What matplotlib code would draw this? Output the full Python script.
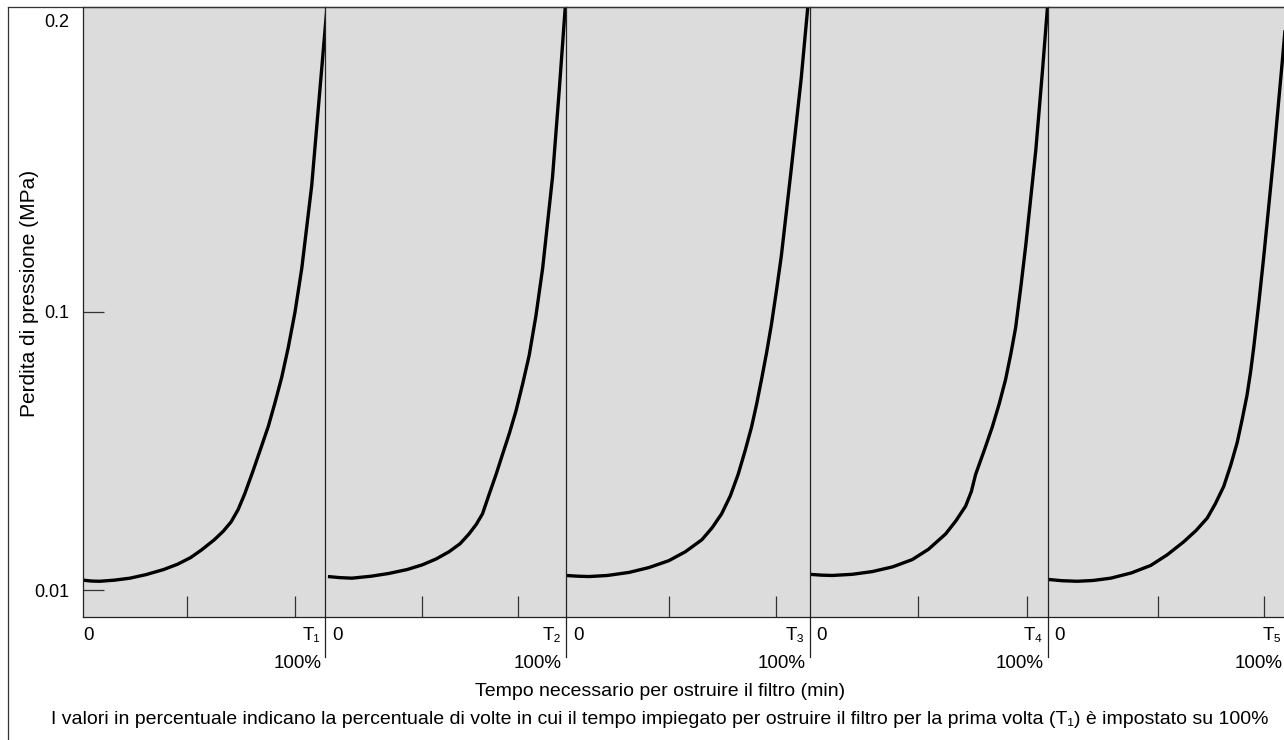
import numpy as np
import matplotlib
matplotlib.use("Agg")
import matplotlib.pyplot as plt
from matplotlib.lines import Line2D

plt.rcParams['font.family'] = ['Liberation Sans', 'DejaVu Sans']

# ---- data (x: fraction of the clogging time of each run, y: pressure loss in MPa) ----
x1 = [0.0, 0.035, 0.069, 0.13, 0.194, 0.26, 0.333, 0.39, 0.444, 0.49, 0.542, 0.578, 0.611, 0.64,
      0.667, 0.70, 0.736, 0.765, 0.792, 0.82, 0.847, 0.875, 0.903, 0.944, 0.972, 1.007]
y1 = [0.01089, 0.01081, 0.01079, 0.01089, 0.01107, 0.01140, 0.01189, 0.01242, 0.01312, 0.01400,
      0.01521, 0.01629, 0.01762, 0.01950, 0.02218, 0.02661, 0.03281, 0.03890, 0.04710, 0.05821,
      0.07447, 0.1000, 0.1150, 0.1434, 0.1706, 0.2045]

x2 = [0.011, 0.06, 0.111, 0.19, 0.264, 0.34, 0.403, 0.46, 0.514, 0.56, 0.597, 0.627, 0.653, 0.681,
      0.71, 0.736, 0.765, 0.792, 0.82, 0.847, 0.875, 0.903, 0.944, 0.972, 0.997]
y2 = [0.01122, 0.01112, 0.01107, 0.01125, 0.01151, 0.01189, 0.01236, 0.01297, 0.01377, 0.01472,
      0.01596, 0.01726, 0.01884, 0.02218, 0.02618, 0.03076, 0.03673, 0.04406, 0.05521, 0.06982,
      0.09683, 0.1150, 0.1462, 0.1761, 0.2045]

x3 = [0.0, 0.05, 0.095, 0.17, 0.259, 0.34, 0.422, 0.49, 0.558, 0.60, 0.639, 0.675, 0.707, 0.735,
      0.762, 0.783, 0.803, 0.824, 0.844, 0.864, 0.884, 0.925, 0.966, 0.993]
y3 = [0.01132, 0.01125, 0.01122, 0.01132, 0.01161, 0.01208, 0.01279, 0.01377, 0.01521, 0.01679,
      0.01884, 0.02188, 0.02612, 0.03162, 0.03864, 0.04677, 0.05728, 0.07161, 0.09057, 0.10716,
      0.1190, 0.1489, 0.1801, 0.2045]

x4 = [0.0, 0.05, 0.095, 0.18, 0.264, 0.35, 0.432, 0.50, 0.572, 0.615, 0.656, 0.68, 0.698, 0.735,
      0.768, 0.797, 0.824, 0.846, 0.866, 0.888, 0.909, 0.951, 0.979, 1.0]
y4 = [0.01143, 0.01135, 0.01132, 0.01143, 0.01169, 0.01216, 0.01291, 0.01406, 0.01596, 0.01778,
      0.02009, 0.02265, 0.02612, 0.03199, 0.03864, 0.04677, 0.05728, 0.07079, 0.08770, 0.1086,
      0.1231, 0.1556, 0.1828, 0.2045]

x5 = [0.0, 0.06, 0.125, 0.19, 0.264, 0.35, 0.431, 0.50, 0.569, 0.62, 0.667, 0.70, 0.736, 0.765,
      0.792, 0.813, 0.833, 0.848, 0.861, 0.882, 0.903, 0.944, 0.983, 1.0]
y5 = [0.01096, 0.01084, 0.01079, 0.01086, 0.01107, 0.01156, 0.01230, 0.01343, 0.01496, 0.01641,
      0.01820, 0.02042, 0.02366, 0.02818, 0.03396, 0.04121, 0.05023, 0.06095, 0.07447, 0.10286,
      0.1190, 0.1530, 0.1883, 0.2045]

xs = [x1, x2, x3, x4, x5]
ys = [y1, y2, y3, y4, y5]

# minor time ticks of each panel (fraction of its clogging time)
panel_ticks = [[0.431, 0.875], [0.403, 0.799], [0.424, 0.864], [0.457, 0.912], [0.4625, 0.903]]
end_labels = ["T\u2081", "T\u2082", "T\u2083", "T\u2084", "T\u2085"]
pct_label = "100%"
ytick_vals = [0.01, 0.1, 0.2]
ytick_labels = ["0.01", "0.1", "0.2"]

ylabel = "Perdita di pressione (MPa)"
xlabel = "Tempo necessario per ostruire il filtro (min)"
note = ("I valori in percentuale indicano la percentuale di volte in cui il tempo impiegato per "
        "ostruire il filtro per la prima volta (T\u2081) è impostato su 100%")

# ---- custom y scale: log below 0.1, linear above ----
K = 10.48

def fwd(v):
    v = np.clip(np.asarray(v, dtype=float), 1e-6, None)
    return np.where(v <= 0.1, np.log10(np.minimum(v, 0.1)) + 2, 1 + (v - 0.1) * K)

def inv(t):
    t = np.asarray(t, dtype=float)
    return np.where(t <= 1, 10 ** (np.minimum(t, 1) - 2), 0.1 + (t - 1) / K)

W, H = 1284, 740
fig = plt.figure(figsize=(W / 100, H / 100), dpi=100)

edges = [83, 325.3, 566, 809.5, 1047.5, 1287]
top_px, bot_px = 7, 617
FS_T = 13.5   # panel labels
FS_Y = 13     # y tick labels
FS_C = 14     # captions
BG = "#dcdcdc"

for i in range(5):
    x0, x1p = edges[i], edges[i + 1]
    ax = fig.add_axes([x0 / W, (H - bot_px) / H, (x1p - x0) / W, (bot_px - top_px) / H])
    ax.set_facecolor(BG)
    ax.plot(xs[i], ys[i], color="black", lw=2.4, solid_capstyle="butt", solid_joinstyle="round")
    ax.set_yscale("function", functions=(fwd, inv))
    ax.set_ylim(0.00803, 0.2045)
    ax.set_xlim(0, 1)
    for s in ax.spines.values():
        s.set_linewidth(0.9)
        s.set_color("#222222")
    ax.spines["right"].set_visible(False)
    ax.set_xticks(panel_ticks[i])
    ax.tick_params(axis="x", direction="in", length=15, width=0.9, color="#333333", labelbottom=False)
    ax.yaxis.set_minor_locator(matplotlib.ticker.NullLocator())
    if i == 0:
        ax.set_yticks(ytick_vals)
        ax.set_yticklabels(ytick_labels)
        ax.tick_params(axis="y", direction="in", length=15, width=0.9, color="#333333",
                       labelsize=FS_Y, pad=10)
        ax.yaxis.get_major_ticks()[2].tick1line.set_visible(False)
    else:
        ax.set_yticks([])
        # divider extends below axis
        ax.plot([0, 0], [0, -40 / 610], transform=ax.transAxes, color="#222222", lw=0.9, clip_on=False)
    # labels under each panel
    ax.annotate("0", xy=(0, 0), xycoords="axes fraction", xytext=(0 if i == 0 else 7, -19),
                textcoords="offset pixels", ha="left", va="center", fontsize=FS_T)
    ax.annotate(end_labels[i], xy=(1, 0), xycoords="axes fraction", xytext=(-5, -19),
                textcoords="offset pixels", ha="right", va="center", fontsize=FS_T)
    ax.annotate(pct_label, xy=(1, 0), xycoords="axes fraction", xytext=(-4, -46),
                textcoords="offset pixels", ha="right", va="center", fontsize=FS_T)

# frame of the figure (left and top)
fig.add_artist(Line2D([8 / W, 8 / W], [0, 1 - 7 / H], color="#333333", lw=0.9))
fig.add_artist(Line2D([8 / W, 1], [1 - 7 / H, 1 - 7 / H], color="#333333", lw=0.9))

fig.text(30 / W, 1 - 293 / H, ylabel, rotation=90, ha="center", va="center", fontsize=15)
fig.text(660 / W, 1 - 692 / H, xlabel, ha="center", va="center", fontsize=FS_C)
fig.text(660 / W, 1 - 720 / H, note, ha="center", va="center", fontsize=FS_C)

fig.savefig("out.png", dpi=100)
